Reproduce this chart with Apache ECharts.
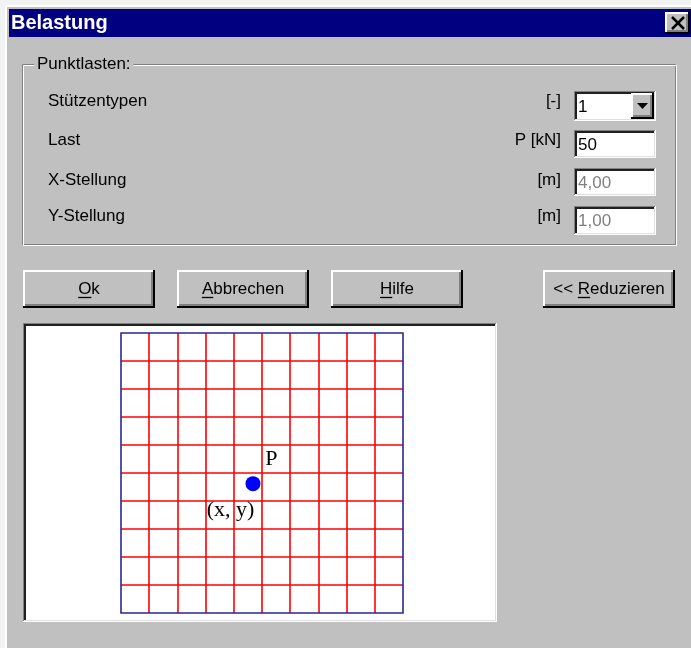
<!DOCTYPE html>
<html>
<head>
<meta charset="utf-8">
<script src="https://cdn.jsdelivr.net/npm/echarts@6.0.0/dist/echarts.min.js"></script>
<style>
  html, body { margin: 0; padding: 0; background: #c0c0c0; }
  #chart { width: 691px; height: 648px; }
</style>
</head>
<body>
<div id="chart"></div>
<script>
// ---- data ----
const windowTitle = 'Belastung';
const groupTitle = 'Punktlasten:';
const rowLabels = ['Stützentypen', 'Last', 'X-Stellung', 'Y-Stellung'];
const unitLabels = ['[-]', 'P [kN]', '[m]', '[m]'];
const fieldValues = ['1', '50', '4,00', '1,00'];
const fieldEnabled = [true, true, false, false];
const buttonLabels = ['Ok', 'Abbrechen', 'Hilfe', '<< Reduzieren'];
const buttonMnemonic = [0, 0, 0, 3];
const gridMin = 0, gridMax = 10, gridStep = 1;
const pointX = [4.68];
const pointY = [4.62];
const pointName = ['P'];
const pointCoordText = ['(x, y)'];

// ---- layout helpers ----
const UI_FONT = '17px "Liberation Sans", Arial, sans-serif';
const measureCtx = document.createElement('canvas').getContext('2d');
function tw(text, font) { measureCtx.font = font; return measureCtx.measureText(text).width; }

const G = [];
function rect(x, y, w, h, fill, z) {
  G.push({ type: 'rect', z: z || -50, silent: true, shape: { x, y, width: w, height: h }, style: { fill } });
}
function line(x1, y1, x2, y2, stroke, lw, z) {
  G.push({ type: 'line', z: z || -40, silent: true, shape: { x1, y1, x2, y2 }, style: { stroke, lineWidth: lw || 1 } });
}
function text(t, x, y, opts) {
  opts = opts || {};
  G.push({ type: 'text', z: opts.z || -30, silent: true,
    style: { text: t, x, y, font: opts.font || UI_FONT, fill: opts.fill || '#000',
      textAlign: opts.align || 'left', textVerticalAlign: 'middle', verticalAlign: 'middle' } });
}
function raised(x, y, w, h) {
  rect(x, y, w, h, '#c0c0c0', -45);
  line(x, y + 1, x + w - 1, y + 1, '#ffffff', 2, -40);
  line(x + 1, y, x + 1, y + h - 1, '#ffffff', 2, -40);
  line(x, y + h - 1, x + w, y + h - 1, '#000000', 2, -39);
  line(x + w - 1, y, x + w - 1, y + h, '#000000', 2, -39);
  line(x + 2, y + h - 3, x + w - 2, y + h - 3, '#808080', 2, -40);
  line(x + w - 3, y + 2, x + w - 3, y + h - 2, '#808080', 2, -40);
}
function sunken(x, y, w, h, fill) {
  rect(x, y, w, h, fill, -45);
  line(x, y + 0.5, x + w, y + 0.5, '#808080', 1, -40);
  line(x + 0.5, y, x + 0.5, y + h, '#808080', 1, -40);
  line(x + 1, y + 2, x + w - 1, y + 2, '#202020', 2, -40);
  line(x + 2, y + 1, x + 2, y + h - 1, '#202020', 2, -40);
  line(x, y + h - 0.5, x + w, y + h - 0.5, '#ffffff', 1, -39);
  line(x + w - 0.5, y, x + w - 0.5, y + h, '#ffffff', 1, -39);
  line(x + 1, y + h - 1.5, x + w - 1, y + h - 1.5, '#dfdfdf', 1, -39);
  line(x + w - 1.5, y + 1, x + w - 1.5, y + h - 1, '#dfdfdf', 1, -39);
}

// window frame
rect(0, 0, 691, 648, '#f2f2f2', -60);
rect(5, 5, 686, 643, '#ffffff', -59);
rect(7, 7, 684, 641, '#c0c0c0', -58);
// title bar
rect(9, 9, 682, 28, '#000080', -55);
text(windowTitle, 11, 23, { font: 'bold 20px "Liberation Sans", Arial, sans-serif', fill: '#ffffff' });
raised(665, 12, 25, 22);
line(672, 17, 684, 29, '#000000', 2.5, -30);
line(684, 17, 672, 29, '#000000', 2.5, -30);

// group box (etched)
G.push({ type: 'rect', z: -44, silent: true, shape: { x: 22.5, y: 64.5, width: 653, height: 180 }, style: { fill: 'none', stroke: '#808080', lineWidth: 1 } });
G.push({ type: 'rect', z: -44, silent: true, shape: { x: 23.5, y: 65.5, width: 653, height: 180 }, style: { fill: 'none', stroke: '#ffffff', lineWidth: 1 } });
const gtW = tw(groupTitle, UI_FONT);
rect(34, 56, gtW + 6, 16, '#c0c0c0', -43);
text(groupTitle, 37, 64);

// rows
const rowY = [101, 140, 180, 216];
const fieldTop = [91, 130, 168, 206];
const fieldH = [30, 28, 28, 29];
rowLabels.forEach((lbl, i) => {
  text(lbl, 48, rowY[i]);
  text(unitLabels[i], 561, rowY[i], { align: 'right' });
  sunken(574, fieldTop[i], 82, fieldH[i], '#ffffff');
  text(fieldValues[i], 578, fieldTop[i] + fieldH[i] / 2 + 1, { fill: fieldEnabled[i] ? '#000000' : '#808080' });
});
// combo drop-down button
raised(631, 93, 23, 26);
G.push({ type: 'polygon', z: -30, silent: true, shape: { points: [[637, 103], [648, 103], [642.5, 109]] }, style: { fill: '#000000' } });

// buttons
const btnX = [23, 177, 331, 543];
const btnW = 132, btnY = 270, btnH = 38;
buttonLabels.forEach((lbl, i) => {
  raised(btnX[i], btnY, btnW, btnH);
  const cx = btnX[i] + btnW / 2;
  const cy = btnY + btnH / 2;
  text(lbl, cx, cy, { align: 'center' });
  const W = tw(lbl, UI_FONT);
  const m = buttonMnemonic[i];
  const ux = cx - W / 2 + tw(lbl.slice(0, m), UI_FONT);
  const uw = tw(lbl.charAt(m), UI_FONT);
  line(ux, cy + 8.5, ux + uw, cy + 8.5, '#000000', 1.3, -30);
});

// drawing panel
sunken(23, 323, 474, 299, '#ffffff');

// ---- chart ----
const chart = echarts.init(document.getElementById('chart'), null, { renderer: 'canvas' });
const axisCommon = {
  type: 'value', min: gridMin, max: gridMax, interval: gridStep,
  axisLine: { show: false }, axisTick: { show: false }, axisLabel: { show: false },
  splitLine: { show: true, showMinLine: false, showMaxLine: false, lineStyle: { color: '#ff0000', width: 1.6 } }
};
const labelFont = { fontFamily: '"Liberation Serif", "DejaVu Serif", serif', fontSize: 22, color: '#000000', textBorderWidth: 0, opacity: 1 };
chart.setOption({
  backgroundColor: '#c0c0c0',
  animation: false,
  graphic: { elements: G },
  grid: { left: 121, top: 333, width: 282, height: 280, show: true, borderColor: '#2a2a8c', borderWidth: 1.6, backgroundColor: 'transparent', z: 1 },
  xAxis: axisCommon,
  yAxis: axisCommon,
  series: [
    {
      type: 'scatter', z: 5,
      data: pointX.map((x, i) => [x, pointY[i]]),
      symbol: 'circle', symbolSize: 15,
      itemStyle: { color: '#0000ff', opacity: 1 },
      label: Object.assign({ show: true, formatter: (p) => pointName[p.dataIndex], position: [26, -17], align: 'center', verticalAlign: 'middle' }, labelFont)
    },
    {
      type: 'scatter', z: 6,
      data: pointX.map((x, i) => [x, pointY[i]]),
      symbol: 'circle', symbolSize: 15,
      itemStyle: { color: '#0000ff', opacity: 0 },
      label: Object.assign({ show: true, formatter: (p) => pointCoordText[p.dataIndex], position: [-15, 34], align: 'center', verticalAlign: 'middle' }, labelFont)
    }
  ]
});
</script>
</body>
</html>
